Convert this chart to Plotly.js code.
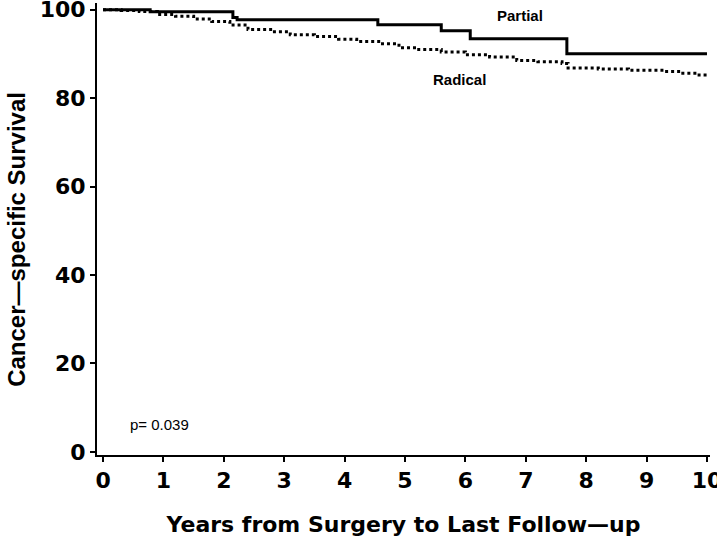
<!DOCTYPE html>
<html><head><meta charset="utf-8">
<script src="https://cdn.plot.ly/plotly-3.0.1.min.js"></script>
<style>body{margin:0;background:#fff}#c{width:717px;height:544px}</style>
</head><body><div id="c"></div>
<script>
const partialYears = [0, 0.78, 2.15, 2.22, 4.55, 5.6, 6.08, 7.68, 10];
const partialSurv  = [100, 99.5, 98.2, 97.7, 96.6, 95.2, 93.4, 90.0, 90.0];
const radicalYears = [0, 0.3, 0.6, 0.9, 1.2, 1.5, 1.8, 2.1, 2.4, 2.8, 3.1, 3.5, 3.9, 4.2, 4.6, 4.9, 5.2, 5.6, 6.0, 6.4, 6.85, 7.2, 7.6, 7.7, 8.2, 8.7, 9.3, 9.6, 9.8, 10];
const radicalSurv  = [100, 99.8, 99.6, 98.9, 98.5, 97.9, 97.3, 96.5, 95.5, 95.0, 94.3, 93.9, 93.3, 92.8, 92.3, 91.4, 91.0, 90.4, 89.8, 89.3, 88.5, 88.2, 87.8, 86.8, 86.6, 86.3, 86.0, 85.6, 85.2, 84.8];
const xTicks = [0,1,2,3,4,5,6,7,8,9,10];
const yTicks = [0,20,40,60,80,100];

const F = 'Liberation Sans, Arial, sans-serif';
const D = 'DejaVu Sans, sans-serif';
const traces = [
  {x: radicalYears, y: radicalSurv, mode:'lines', line:{shape:'hv', color:'#000', width:3, dash:'dot'}, name:'Radical'},
  {x: partialYears, y: partialSurv, mode:'lines', line:{shape:'hv', color:'#000', width:3}, name:'Partial'}
];
const layout = {
  width:717, height:544, showlegend:false,
  margin:{l:97, r:7, t:3, b:89},
  paper_bgcolor:'#fff', plot_bgcolor:'#fff',
  xaxis:{range:[-0.1,10.05], tickvals:xTicks, ticktext:xTicks.map(String), showgrid:false, zeroline:false,
    showline:true, linecolor:'#000', linewidth:2, ticks:'outside', ticklen:5, tickwidth:2, tickcolor:'#000',
    ticklabeloverflow:'allow',
    tickfont:{family:D, size:22, color:'#000', weight:'bold'},
    title:{text:'Years from Surgery to Last Follow\u2014up', font:{family:D, size:22, color:'#000', weight:'bold'}, standoff:24}},
  yaxis:{range:[-0.7,101.5], tickvals:yTicks, ticktext:yTicks.map(String), showgrid:false, zeroline:false,
    showline:true, linecolor:'#000', linewidth:2, ticks:'outside', ticklen:5, tickwidth:2, tickcolor:'#000',
    ticklabeloverflow:'allow',
    tickfont:{family:D, size:22, color:'#000', weight:'bold'}},
  annotations:[
    {x:-0.1305, y:0.476, xref:'paper', yref:'paper', xanchor:'center', yanchor:'middle', textangle:-90,
     text:'Cancer\u2014specific Survival', showarrow:false, font:{family:F, size:24, color:'#000', weight:'bold'}},
    {x:6.9, y:98.7, xref:'x', yref:'y', text:'Partial', showarrow:false, font:{family:F, size:15, color:'#000', weight:'bold'}},
    {x:5.9, y:84.3, xref:'x', yref:'y', text:'Radical', showarrow:false, font:{family:F, size:15, color:'#000', weight:'bold'}},
    {x:0.93, y:6.1, xref:'x', yref:'y', text:'p= 0.039', showarrow:false, font:{family:F, size:15, color:'#000'}}
  ]
};
Plotly.newPlot('c', traces, layout, {displayModeBar:false, staticPlot:true});
</script></body></html>
